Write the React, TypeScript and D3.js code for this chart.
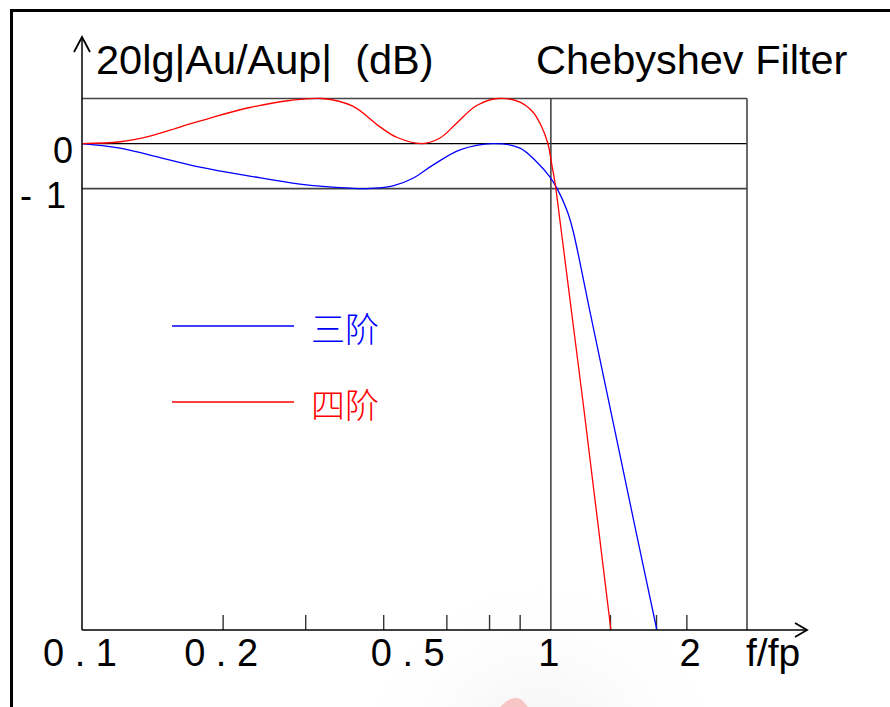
import React from "react";
import * as d3 from "d3";

// ---- data ----
const redFreq = [0.1, 0.1205, 0.1396, 0.1618, 0.1875, 0.228, 0.2777, 0.325, 0.378, 0.432, 0.469, 0.531, 0.58, 0.627, 0.692, 0.771, 0.859, 0.9154, 0.952, 0.9854, 1.005, 1.025, 1.343];
const redDb = [0, 0.04, 0.167, 0.367, 0.567, 0.8, 0.956, 1.0, 0.83, 0.37, 0.14, 0.0, 0.122, 0.433, 0.833, 1.0, 0.92, 0.7, 0.41, 0.0, -0.48, -1.0, -10.8];

const blueFreq = [0.1, 0.1205, 0.1396, 0.1785, 0.228, 0.2916, 0.3728, 0.4053, 0.4604, 0.508, 0.56, 0.64, 0.752, 0.859, 0.933, 0.995, 1.03, 1.082, 1.114, 1.211, 1.369, 1.525, 1.683];
const blueDb = [0, -0.1, -0.256, -0.522, -0.722, -0.9, -0.99, -1.0, -0.94, -0.77, -0.48, -0.14, 0, -0.1, -0.41, -0.74, -0.99, -1.48, -1.92, -3.72, -6.37, -8.7, -10.8];

const xTickValues = [0.1, 0.2, 0.5, 1, 2];
const xTickLabels = ["0 . 1", "0 . 2", "0 . 5", "1", "2"];
const xMinorTicks = [0.2, 0.3, 0.44, 0.6, 0.74, 0.86, 1.34, 1.68, 1.95];
const yTickValues = [0, -1];
const yTickLabels = ["0", "- 1"];
const yGridValues = [1, 0, -1];
const xGridValues = [1, 2.62];

const seriesNames = ["三阶", "四阶"];
const seriesColors = ["#0000ff", "#ff0000"];

const xDomain = [0.1, 2.62];
const yDomain = [-10.8, 1];

export default function App() {
  const left = 82;
  const right = 747;
  const top = 98.5;
  const bottom = 630;

  const x = d3.scaleLog().domain(xDomain).range([left, right]);
  const y = d3.scaleLinear().domain(yDomain).range([bottom, top]);

  const line = d3
    .line<[number, number]>()
    .x((d) => x(d[0]))
    .y((d) => y(d[1]))
    .curve(d3.curveCatmullRom.alpha(0.5));

  const blue = blueFreq.map((f, i) => [f, blueDb[i]] as [number, number]);
  const red = redFreq.map((f, i) => [f, redDb[i]] as [number, number]);

  const font = "'Liberation Sans', Arial, Helvetica, sans-serif";
  const cjk = "'Noto Sans CJK SC', sans-serif";

  return (
    <svg
      width={890}
      height={707}
      style={{ position: "absolute", left: 0, top: 0, background: "#fff" }}
    >
      <defs>
        <radialGradient id="wm" cx="50%" cy="50%" r="50%">
          <stop offset="0%" stopColor="#efefef" />
          <stop offset="100%" stopColor="#ffffff" stopOpacity={0} />
        </radialGradient>
      </defs>
      {/* faint watermark */}
      <circle cx={540} cy={760} r={190} fill="url(#wm)" />
      <path d="M500,707 Q512,694 522,700 L528,707 Z" fill="#f6b8b8" opacity={0.8} />

      {/* outer frame */}
      <line x1={10} x2={890} y1={10.5} y2={10.5} stroke="#000" strokeWidth={3} />
      <line x1={11.5} x2={11.5} y1={9} y2={707} stroke="#000" strokeWidth={3} />

      {/* horizontal grid */}
      {yGridValues.map((v) => (
        <line
          key={"h" + v}
          x1={left}
          x2={right}
          y1={y(v)}
          y2={y(v)}
          stroke={v === 0 ? "#000" : "#444"}
          strokeWidth={v === 0 ? 1.3 : 1.6}
        />
      ))}
      {/* vertical grid */}
      {xGridValues.map((v) => (
        <line
          key={"v" + v}
          x1={x(v)}
          x2={x(v)}
          y1={top}
          y2={bottom}
          stroke="#444"
          strokeWidth={1.6}
        />
      ))}

      {/* minor ticks */}
      {xMinorTicks.map((v) => (
        <line
          key={"t" + v}
          x1={x(v)}
          x2={x(v)}
          y1={bottom - 15}
          y2={bottom}
          stroke="#333"
          strokeWidth={1.4}
        />
      ))}

      {/* curves */}
      <path d={line(blue) || ""} fill="none" stroke={seriesColors[0]} strokeWidth={1.3} />
      <path d={line(red) || ""} fill="none" stroke={seriesColors[1]} strokeWidth={1.3} />

      {/* axes */}
      <line x1={left} x2={left} y1={37} y2={bottom} stroke="#000" strokeWidth={1.5} />
      <path d={`M${left - 8},52 L${left},37 L${left + 8},52`} fill="none" stroke="#000" strokeWidth={1.8} />
      <line x1={left} x2={807} y1={bottom} y2={bottom} stroke="#000" strokeWidth={1.5} />
      <path d={`M795,${bottom - 7} L807,${bottom} L795,${bottom + 7}`} fill="none" stroke="#000" strokeWidth={1.8} />

      {/* x tick labels */}
      {xTickValues.map((v, i) => (
        <text
          key={"xl" + v}
          x={x(v) - 2}
          y={666}
          textAnchor="middle"
          fontFamily={font}
          fontSize={38}
          fill="#000"
          style={{ whiteSpace: "pre" }}
        >
          {xTickLabels[i]}
        </text>
      ))}
      <text x={746} y={666} fontFamily={font} fontSize={39} fill="#000">
        f/fp
      </text>

      {/* y tick labels */}
      {yTickValues.map((v, i) => (
        <text
          key={"yl" + v}
          x={i === 0 ? 73 : 66}
          y={y(v) + 19}
          textAnchor="end"
          fontFamily={font}
          fontSize={36}
          fill="#000"
          style={{ whiteSpace: "pre", wordSpacing: i === 0 ? 0 : 4 }}
        >
          {yTickLabels[i]}
        </text>
      ))}

      {/* titles */}
      <text x={96} y={74} fontFamily={font} fontSize={41.5} fill="#000" style={{ whiteSpace: "pre" }}>
        {"20lg|Au/Aup|  (dB)"}
      </text>
      <text x={536} y={74} fontFamily={font} fontSize={41.5} fill="#000">
        Chebyshev Filter
      </text>

      {/* legend */}
      {seriesNames.map((name, i) => {
        const ly = 326 + i * 76;
        return (
          <g key={name}>
            <line x1={172} x2={294} y1={ly} y2={ly} stroke={seriesColors[i]} strokeWidth={1.3} />
            <text
              x={311}
              y={ly + 16}
              fontFamily={cjk}
              fontSize={34}
              fontWeight={300}
              fill={seriesColors[i]}
            >
              {name}
            </text>
          </g>
        );
      })}
    </svg>
  );
}
